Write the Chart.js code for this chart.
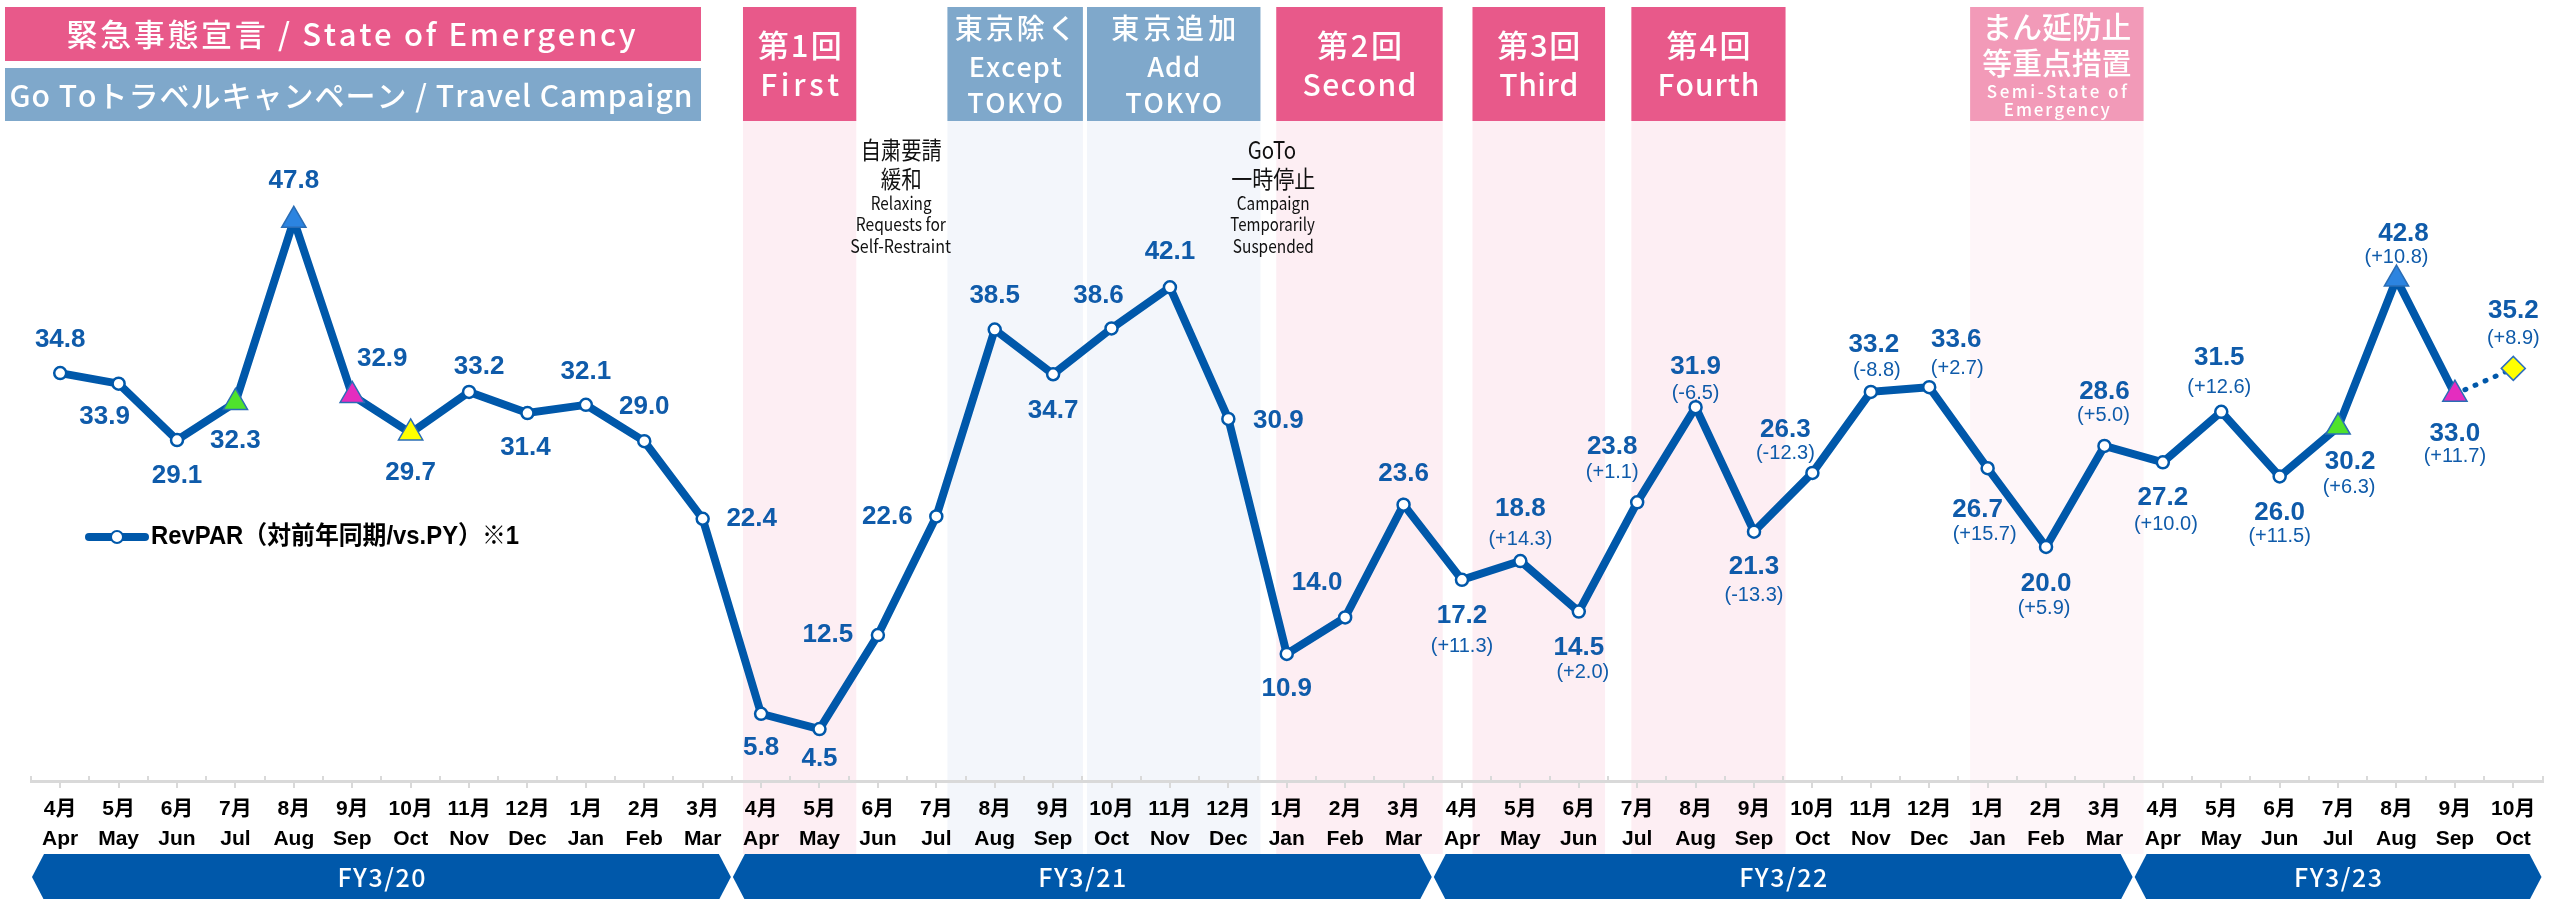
<!DOCTYPE html>
<html>
<head>
<meta charset="utf-8">
<script src="https://cdn.jsdelivr.net/npm/chart.js@4.4.0/dist/chart.umd.min.js"></script>
<style>
    html, body { margin: 0; padding: 0; background: #fff; }
    #wrap { width: 2556px; height: 899px; position: relative; }
</style>
</head>
<body>
<div id="wrap"><canvas id="revparChart"></canvas></div>
<script>
// months, Apr 2019 .. Oct 2022
const monthJa = ['4月','5月','6月','7月','8月','9月','10月','11月','12月','1月','2月','3月',
                 '4月','5月','6月','7月','8月','9月','10月','11月','12月','1月','2月','3月',
                 '4月','5月','6月','7月','8月','9月','10月','11月','12月','1月','2月','3月',
                 '4月','5月','6月','7月','8月','9月','10月'];
const monthEn = ['Apr','May','Jun','Jul','Aug','Sep','Oct','Nov','Dec','Jan','Feb','Mar',
                 'Apr','May','Jun','Jul','Aug','Sep','Oct','Nov','Dec','Jan','Feb','Mar',
                 'Apr','May','Jun','Jul','Aug','Sep','Oct','Nov','Dec','Jan','Feb','Mar',
                 'Apr','May','Jun','Jul','Aug','Sep','Oct'];

// RevPAR (actual), last month is the forecast
const revpar = [34.8, 33.9, 29.1, 32.3, 47.8, 32.9, 29.7, 33.2, 31.4, 32.1, 29.0, 22.4,
                5.8, 4.5, 12.5, 22.6, 38.5, 34.7, 38.6, 42.1, 30.9, 10.9, 14.0, 23.6,
                17.2, 18.8, 14.5, 23.8, 31.9, 21.3, 26.3, 33.2, 33.6, 26.7, 20.0, 28.6,
                27.2, 31.5, 26.0, 30.2, 42.8, 33.0, null];
const revparForecast = [null, null, null, null, null, null, null, null, null, null, null, null,
                        null, null, null, null, null, null, null, null, null, null, null, null,
                        null, null, null, null, null, null, null, null, null, null, null, null,
                        null, null, null, null, null, 33.0, 35.2];
// change vs previous year
const vsPY = [null, null, null, null, null, null, null, null, null, null, null, null,
              null, null, null, null, null, null, null, null, null, null, null, null,
              11.3, 14.3, 2.0, 1.1, -6.5, -13.3, -12.3, -8.8, 2.7, 15.7, 5.9, 5.0,
              10.0, 12.6, 11.5, 6.3, 10.8, 11.7, 8.9];

const fiscalYears = ['FY3/20', 'FY3/21', 'FY3/22', 'FY3/23'];
const fyFirst = [0, 12, 24, 36];
const fyLast = [11, 23, 35, 42];

// special markers (month index -> colour)
const triangleMarks = { 3: '#4FE22C', 4: '#2C84E0', 5: '#E42DBF', 6: '#FFFF00',
                        39: '#4FE22C', 40: '#2C84E0', 41: '#E42DBF' };

// periods, in month-index units
const periods = [
    { from: 11.69, to: 13.63, kind: 'soe',  lines: [['第1回', 84], ['First', 79]] },
    { from: 15.19, to: 17.51, kind: 'goto', lines: [['東京除く', 121], ['Except', 93], ['TOKYO', 96]] },
    { from: 17.58, to: 20.55, kind: 'goto', lines: [['東京追加', 125], ['Add', 53], ['TOKYO', 97]] },
    { from: 20.82, to: 23.67, kind: 'soe',  lines: [['第2回', 85], ['Second', 114]] },
    { from: 24.18, to: 26.45, kind: 'soe',  lines: [['第3回', 83], ['Third', 79]] },
    { from: 26.90, to: 29.54, kind: 'soe',  lines: [['第4回', 84], ['Fourth', 102]] },
    { from: 32.70, to: 35.67, kind: 'semi', lines: [['まん延防止', 149], ['等重点措置', 149], ['Semi-State of', 140], ['Emergency', 106]] }
];

const notes = [
    { at: 14.40, lines: [['自粛要請', 81], ['緩和', 41], ['Relaxing', 61], ['Requests for', 91], ['Self-Restraint', 102]] },
    { at: 20.77, lines: [['GoTo', 51], ['一時停止', 84], ['Campaign', 73], ['Temporarily', 86], ['Suspended', 81]] }
];

// ---- styling / placement ----
const BLUE = '#0058AA';
const LABEL_BLUE = '#0F5BAA';
const NUM_FONT = "'Liberation Sans', Arial, sans-serif";
const JP_FONT = "'Noto Sans CJK JP', 'Noto Sans', sans-serif";

const kindStyle = {
    soe:  { head: '#E8598A', band: '#FDEEF3', ys: [45, 85], sizes: [31, 30] },
    goto: { head: '#7FA8CB', band: '#F3F6FB', ys: [28, 67, 103], sizes: [28, 27, 27] },
    semi: { head: '#F29AB8', band: '#FEF6F9', ys: [27, 63, 92, 110], sizes: [30, 30, 17, 17] }
};
const noteYs = [150, 179, 203, 224, 246];
const noteSizes = [24, 24, 18, 18, 18];

// value label offsets from the point [dx, dy]
const valueOffset = [
    [0, -33], [-14, 33], [0, 36], [0, 38], [0, -40], [30, -37], [0, 40], [10, -25], [-2, 35], [0, -33], [0, -34], [49, 0],
    [0, 34], [0, 30], [-50, 0], [-49, 0], [0, -34], [0, 37], [-13, -33], [0, -35], [50, 2], [0, 35], [-28, -35], [0, -31],
    [0, 36], [0, -52], [0, 36], [-25, -55], [0, -40], [0, 35], [-27, -43], [3, -47], [27, -47], [-10, 42], [0, 37], [0, -54],
    [0, 35], [-2, -54], [0, 36], [12, 35], [7, -45], [0, 40], [0, -58]
];
const diffOffset = [
    null, null, null, null, null, null, null, null, null, null, null, null,
    null, null, null, null, null, null, null, null, null, null, null, null,
    [0, 67], [0, -22], [4, 61], [-25, -30], [0, -14], [0, 64], [-27, -19], [6, -21], [28, -19], [-3, 66], [-2, 62], [-1, -30],
    [3, 62], [-2, -24], [0, 60], [11, 60], [0, -22], [0, 62], [0, -30]
];

function spacedText(ctx, text, cx, cy, width) {
    const chars = Array.from(text);
    const ws = chars.map(c => ctx.measureText(c).width);
    const natural = ws.reduce((a, b) => a + b, 0);
    ctx.save();
    ctx.textAlign = 'left';
    ctx.textBaseline = 'middle';
    if (natural >= width || chars.length < 2) {
        const k = Math.min(1, width / natural);
        ctx.translate(cx, cy);
        ctx.scale(k, 1);
        ctx.fillText(text, -natural / 2, 0);
    } else {
        const gap = (width - natural) / (chars.length - 1);
        let x = cx - width / 2;
        chars.forEach((c, i) => { ctx.fillText(c, x, cy); x += ws[i] + gap; });
    }
    ctx.restore();
}

const backdrop = {
    id: 'backdrop',
    beforeDraw(chart) {
        const ctx = chart.ctx;
        const xs = chart.scales.x;
        ctx.save();
        // legend boxes top-left
        ctx.fillStyle = kindStyle.soe.head;
        ctx.fillRect(5, 7, 696, 54);
        ctx.fillStyle = kindStyle.goto.head;
        ctx.fillRect(5, 68, 696, 53);
        ctx.fillStyle = '#fff';
        ctx.font = '500 31px ' + JP_FONT;
        spacedText(ctx, '緊急事態宣言 / State of Emergency', 351, 34, 569);
        ctx.font = '500 30px ' + JP_FONT;
        spacedText(ctx, 'Go Toトラベルキャンペーン / Travel Campaign', 351, 96, 683);

        periods.forEach(p => {
            const st = kindStyle[p.kind];
            const x0 = xs.getPixelForValue(p.from);
            const x1 = xs.getPixelForValue(p.to);
            ctx.fillStyle = st.band;
            ctx.fillRect(x0, 121, x1 - x0, 854 - 121);
            ctx.fillStyle = st.head;
            ctx.fillRect(x0, 7, x1 - x0, 114);
            ctx.fillStyle = '#fff';
            p.lines.forEach((ln, k) => {
                ctx.font = '500 ' + st.sizes[k] + 'px ' + JP_FONT;
                spacedText(ctx, ln[0], (x0 + x1) / 2, st.ys[k], ln[1]);
            });
        });

        // notes
        ctx.fillStyle = '#111';
        notes.forEach(n => {
            const cx = xs.getPixelForValue(n.at);
            n.lines.forEach((ln, k) => {
                ctx.font = noteSizes[k] + 'px ' + JP_FONT;
                spacedText(ctx, ln[0], cx, noteYs[k], ln[1]);
            });
        });
        ctx.restore();
    },
    afterDraw(chart) {
        const ctx = chart.ctx;
        const xs = chart.scales.x;
        const base = chart.chartArea.bottom;
        ctx.save();
        // boundary ticks going up
        ctx.strokeStyle = '#d9d9d9';
        ctx.lineWidth = 2;
        for (let i = 0; i <= monthJa.length; i++) {
            const x = Math.round(xs.getPixelForValue(i - 0.5));
            ctx.beginPath();
            ctx.moveTo(x, base);
            ctx.lineTo(x, base - 6);
            ctx.stroke();
        }
        // fiscal year bars
        const top = 854, bot = 900, mid = 877, cut = 12;
        fiscalYears.forEach((fy, k) => {
            const a = xs.getPixelForValue(fyFirst[k] - 0.5) + 1;
            const b = xs.getPixelForValue(fyLast[k] + 0.5) - 1;
            ctx.fillStyle = BLUE;
            ctx.beginPath();
            ctx.moveTo(a, mid);
            ctx.lineTo(a + cut, top);
            ctx.lineTo(b - cut, top);
            ctx.lineTo(b, mid);
            ctx.lineTo(b - cut, bot);
            ctx.lineTo(a + cut, bot);
            ctx.closePath();
            ctx.fill();
            ctx.fillStyle = '#fff';
            ctx.font = '500 25px ' + JP_FONT;
            spacedText(ctx, fy, (a + b) / 2, mid, 88);
        });

        // legend
        ctx.strokeStyle = BLUE;
        ctx.lineWidth = 8;
        ctx.lineCap = 'round';
        ctx.beginPath();
        ctx.moveTo(89, 537);
        ctx.lineTo(145, 537);
        ctx.stroke();
        ctx.fillStyle = '#fff';
        ctx.lineWidth = 2;
        ctx.beginPath();
        ctx.arc(117, 537, 6, 0, Math.PI * 2);
        ctx.fill();
        ctx.stroke();
        ctx.fillStyle = '#000';
        ctx.font = 'bold 25px ' + NUM_FONT + ", 'Noto Sans CJK JP'";
        ctx.textAlign = 'left';
        ctx.textBaseline = 'middle';
        const legendText = 'RevPAR（対前年同期/vs.PY）※1';
        const w = ctx.measureText(legendText).width;
        ctx.save();
        ctx.translate(151, 537);
        ctx.scale(368 / w, 1);
        ctx.fillText(legendText, 0, 0);
        ctx.restore();
        ctx.restore();
    },
    afterDatasetsDraw(chart) {
        const ctx = chart.ctx;
        const m0 = chart.getDatasetMeta(0);
        const m1 = chart.getDatasetMeta(1);
        ctx.save();
        ctx.textAlign = 'center';
        ctx.textBaseline = 'middle';
        ctx.fillStyle = LABEL_BLUE;
        for (let i = 0; i < monthJa.length; i++) {
            const actual = revpar[i] != null;
            const v = actual ? revpar[i] : revparForecast[i];
            if (v == null) continue;
            const el = (actual ? m0 : m1).data[i];
            const o = valueOffset[i];
            ctx.font = 'bold 26px ' + NUM_FONT;
            ctx.fillText(v.toFixed(1), el.x + o[0], el.y + o[1]);
            if (vsPY[i] != null) {
                const d = diffOffset[i];
                const s = (vsPY[i] > 0 ? '+' : '') + vsPY[i].toFixed(1);
                ctx.font = '20px ' + NUM_FONT;
                ctx.fillText('(' + s + ')', el.x + d[0], el.y + d[1]);
            }
        }
        ctx.restore();
    }
};

const ctx = document.getElementById('revparChart');
new Chart(ctx, {
    type: 'line',
    data: {
        labels: monthJa.map((m, i) => [m, monthEn[i]]),
        datasets: [{
            label: 'RevPAR（対前年同期/vs.PY）※1',
            data: revpar,
            borderColor: BLUE,
            borderWidth: 8,
            tension: 0,
            clip: false,
            pointStyle: c => triangleMarks[c.dataIndex] ? 'triangle' : 'circle',
            pointRadius: c => triangleMarks[c.dataIndex] ? 14 : 6,
            pointBackgroundColor: c => triangleMarks[c.dataIndex] || '#fff',
            pointBorderColor: c => triangleMarks[c.dataIndex] ? '#2A6DB5' : BLUE,
            pointBorderWidth: c => triangleMarks[c.dataIndex] ? 1.5 : 2.5
        }, {
            label: 'forecast',
            data: revparForecast,
            borderColor: BLUE,
            borderWidth: 5,
            borderDash: [1, 10],
            borderCapStyle: 'round',
            clip: false,
            pointStyle: 'rectRot',
            pointRadius: c => c.dataIndex === 42 ? 12 : 0,
            pointBackgroundColor: '#FFFF00',
            pointBorderColor: '#2E6FBF',
            pointBorderWidth: 1.5
        }]
    },
    options: {
        responsive: true,
        maintainAspectRatio: false,
        animation: false,
        devicePixelRatio: 1,
        layout: { padding: { top: 124, bottom: 39, left: 31, right: 5 } },
        plugins: {
            legend: { display: false },
            tooltip: { enabled: false }
        },
        scales: {
            x: {
                offset: true,
                grid: { display: true, drawOnChartArea: false, drawTicks: true, tickLength: 6,
                        color: '#d9d9d9', lineWidth: 2, offset: false },
                border: { display: true, color: '#d9d9d9', width: 3 },
                ticks: {
                    autoSkip: false, maxRotation: 0, minRotation: 0, padding: 6, color: '#000',
                    font: { family: NUM_FONT + ", 'Noto Sans CJK JP'", size: 21, weight: 'bold', lineHeight: 1.43 }
                }
            },
            y: { display: false, min: 0, max: 56 }
        }
    },
    plugins: [backdrop]
});
</script>
</body>
</html>
